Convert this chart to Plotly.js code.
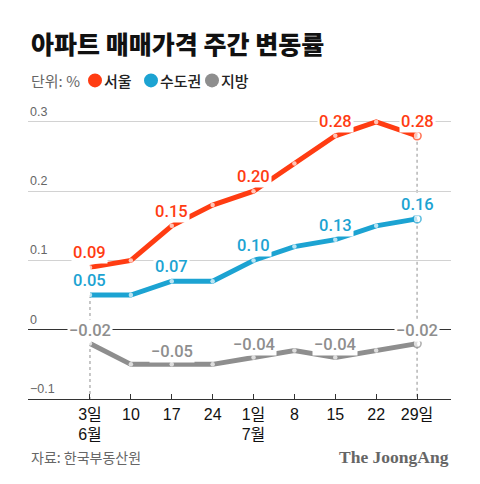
<!DOCTYPE html>
<html>
<head>
<meta charset="utf-8">
<script src="https://cdn.plot.ly/plotly-3.0.1.min.js"></script>
<style>
html,body{margin:0;padding:0;background:#fff;}
#chart{width:480px;height:484px;}
</style>
</head>
<body>
<div id="chart"></div>
<script>
// ---- data ----
const weeks = ["3일<br>6월", "10", "17", "24", "1일<br>7월", "8", "15", "22", "29일"];
const seoul = [0.09, 0.10, 0.15, 0.18, 0.20, 0.24, 0.28, 0.30, 0.28];
const capital = [0.05, 0.05, 0.07, 0.07, 0.10, 0.12, 0.13, 0.15, 0.16];
const region = [-0.02, -0.05, -0.05, -0.05, -0.04, -0.03, -0.04, -0.03, -0.02];
const labelIdx = [0, 2, 4, 6, 8];
const seriesNames = ["서울", "수도권", "지방"];
const yTicks = [-0.1, 0, 0.1, 0.2, 0.3];
const yTickText = ["\u22120.1", "0", "0.1", "0.2", "0.3"];

// ---- styling ----
const colors = ["#ff3c12", "#1ca3d2", "#8e8e8e"];
const W = 480, H = 484;
const M = {l: 28, r: 29, t: 114.6, b: 85.3};
const xRange = [-1.516, 8.83];
const yRange = [-0.1, 0.31];
const pw = W - M.l - M.r, ph = H - M.t - M.b;
const px2x = p => (p - M.l) / pw;
const py2y = p => (H - M.b - p) / ph;

const xs = weeks.map((_, i) => i);
const seriesData = [seoul, capital, region];

const traces = seriesData.map((vals, s) => {
  const n = vals.length;
  return {
    x: xs, y: vals, type: "scatter", mode: "lines+markers",
    name: seriesNames[s], showlegend: false, hoverinfo: "skip",
    line: {color: colors[s], width: 5},
    marker: {
      color: "#ffffff",
      size: vals.map((_, i) => i === n - 1 ? 8 : 4.5),
      line: {color: colors[s], width: vals.map((_, i) => i === n - 1 ? 1.6 : 0)}
    }
  };
});

const fmt = v => (v < 0 ? "\u2212" : "") + Math.abs(v).toFixed(2);
const annotations = [];
seriesData.forEach((vals, s) => {
  labelIdx.forEach(i => {
    annotations.push({
      x: i, y: vals[i], xref: "x", yref: "y", text: fmt(vals[i]),
      showarrow: false, yshift: s === 2 ? 13 : 14.5, yanchor: "middle",
      bgcolor: "#ffffff", borderpad: 1,
      font: {family: "Roboto, Liberation Sans, sans-serif", size: 16.5, weight: 500, color: colors[s]}
    });
  });
});

// y tick labels, placed above their gridlines at the left edge
yTicks.forEach((v, k) => {
  annotations.push({
    xref: "paper", yref: "y", x: 0, y: v, xanchor: "left", yanchor: "bottom",
    yshift: 1, text: yTickText[k], showarrow: false,
    font: {family: "Liberation Sans", size: 12.5, color: "#666"}
  });
});

// title
annotations.push({
  xref: "paper", yref: "paper", x: px2x(29), y: py2y(43), xanchor: "left", yanchor: "middle",
  text: "아파트 매매가격 주간 변동률", showarrow: false,
  font: {family: "Noto Sans CJK KR", size: 25, weight: 900, color: "#111"}
});
// unit + legend texts
annotations.push({
  xref: "paper", yref: "paper", x: px2x(29), y: py2y(80), xanchor: "left", yanchor: "middle",
  text: "단위: %", showarrow: false,
  font: {family: "Noto Sans CJK KR", size: 15, color: "#666"}
});
const legendDotX = [95, 151, 212];
const legendShapes = [];
seriesNames.forEach((nm, s) => {
  annotations.push({
    xref: "paper", yref: "paper", x: px2x(legendDotX[s] + 7), y: py2y(80), xanchor: "left", yanchor: "middle",
    text: nm, showarrow: false,
    font: {family: "Noto Sans CJK KR", size: 15, weight: 500, color: "#222"}
  });
  legendShapes.push({
    type: "circle", xref: "paper", yref: "paper", xsizemode: "pixel", ysizemode: "pixel",
    xanchor: px2x(legendDotX[s]), yanchor: py2y(80),
    x0: -7, x1: 7, y0: -7, y1: 7,
    fillcolor: colors[s], line: {width: 0}
  });
});
// footer
annotations.push({
  xref: "paper", yref: "paper", x: px2x(29), y: py2y(457), xanchor: "left", yanchor: "middle",
  text: "자료: 한국부동산원", showarrow: false,
  font: {family: "Noto Sans CJK KR", size: 14, color: "#666"}
});
annotations.push({
  xref: "paper", yref: "paper", x: px2x(451), y: py2y(457), xanchor: "right", yanchor: "middle",
  text: "The JoongAng", showarrow: false,
  font: {family: "Liberation Serif", size: 17.5, weight: 700, color: "#666"}
});

// dotted guide lines at first and last week
const last = weeks.length - 1;
const guideShapes = [
  {type: "line", xref: "x", yref: "y", x0: 0, x1: 0, y0: capital[0], y1: yRange[0],
   line: {color: "#aaaaaa", width: 1.3, dash: "dot"}, layer: "below"},
  {type: "line", xref: "x", yref: "y", x0: last, x1: last, y0: seoul[last], y1: yRange[0],
   line: {color: "#aaaaaa", width: 1.3, dash: "dot"}, layer: "below"}
];

const layout = {
  width: W, height: H,
  margin: M,
  paper_bgcolor: "#fff", plot_bgcolor: "#fff",
  showlegend: false,
  xaxis: {
    range: xRange, tickvals: xs, ticktext: weeks,
    showgrid: false, zeroline: false,
    showline: true, linecolor: "#333", linewidth: 1.3,
    ticks: "inside", ticklen: 5, tickcolor: "#333", tickwidth: 1,
    tickfont: {family: "Liberation Sans, Noto Sans CJK KR", size: 16, color: "#111"},
    fixedrange: true
  },
  yaxis: {
    range: yRange, tickvals: yTicks,
    showgrid: true, gridcolor: "#d2d2d2", gridwidth: 1,
    zeroline: true, zerolinecolor: "#333", zerolinewidth: 1.3,
    showline: false, ticks: "", showticklabels: false,
    fixedrange: true
  },
  shapes: guideShapes.concat(legendShapes),
  annotations: annotations
};

Plotly.newPlot("chart", traces, layout, {displayModeBar: false, staticPlot: true});
</script>
</body>
</html>
